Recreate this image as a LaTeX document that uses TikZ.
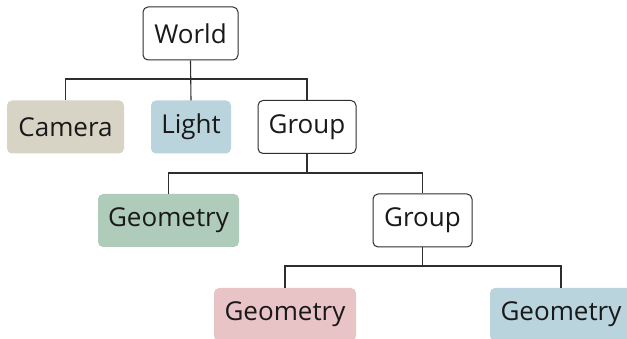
\documentclass[tikz,border=0pt]{standalone}
\usepackage{fontspec}
\setmainfont{Open Sans}
\definecolor{camc}{HTML}{D7D4C5}
\definecolor{bluec}{HTML}{B9D4DD}
\definecolor{greenc}{HTML}{AFCCBA}
\definecolor{pinkc}{HTML}{E9C4C7}
\definecolor{linec}{HTML}{2E2E2E}
\begin{document}
\begin{tikzpicture}[x=1pt,y=-1pt,
  box/.style={rounded corners=5pt, minimum height=53pt, inner sep=0pt, font=\fontsize{26}{30}\selectfont, text=black!90},
  plain/.style={box, draw=linec, line width=1pt, fill=white},
  conn/.style={draw=linec, line width=1.1pt}]
\useasboundingbox (0,0) rectangle (627,339);
\node[plain, minimum width=95pt] (world) at (190.5,33.5) {World};
\node[box, fill=camc, minimum width=117pt] (camera) at (65.5,127) {Camera};
\node[box, fill=bluec, minimum width=80pt] (light) at (191,127) {Light};
\node[plain, minimum width=98pt] (group1) at (307,127) {Group};
\node[box, fill=greenc, minimum width=141pt] (geo1) at (168.5,220.5) {Geometry};
\node[plain, minimum width=99pt] (group2) at (422.5,220.5) {Group};
\node[box, fill=pinkc, minimum width=142pt] (geo2) at (285,314.5) {Geometry};
\node[box, fill=bluec, minimum width=142pt] (geo3) at (561,314.5) {Geometry};
\coordinate (bus1) at (190.5,79);
\coordinate (bus2) at (307,173);
\coordinate (bus3) at (422.5,266);
\draw[conn] (world.south) -- (light.north);
\draw[conn] (camera.north) |- (bus1) -| (group1.north);
\draw[conn] (group1.south) -- (bus2);
\draw[conn] (geo1.north) |- (bus2) -| (group2.north);
\draw[conn] (group2.south) -- (bus3);
\draw[conn] (geo2.north) |- (bus3) -| (geo3.north);
\end{tikzpicture}
\end{document}
